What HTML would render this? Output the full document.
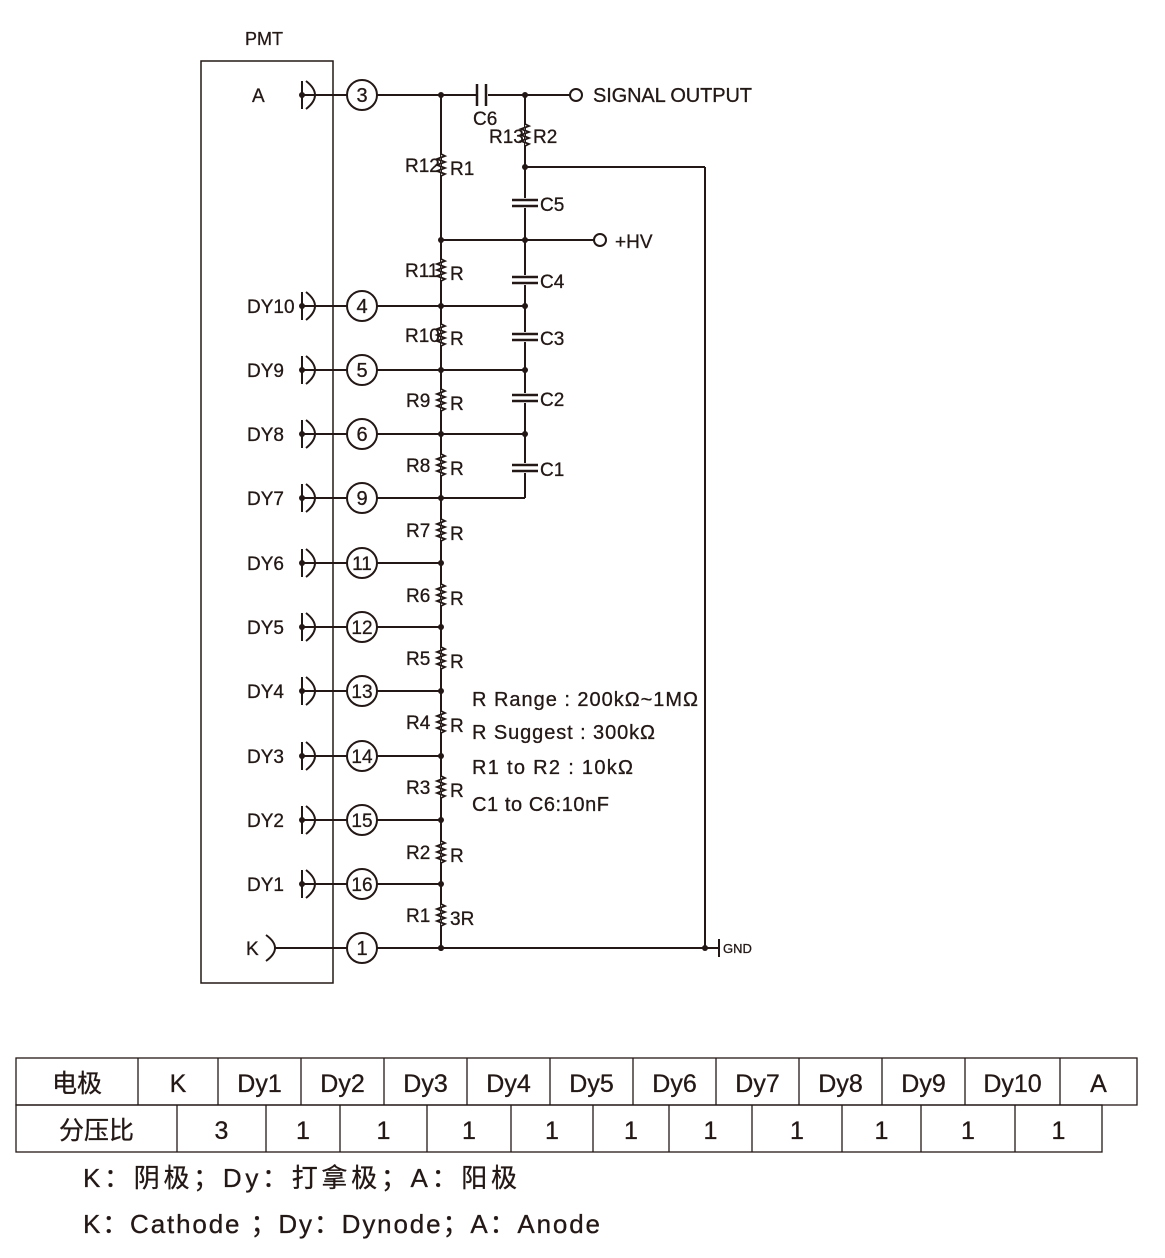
<!DOCTYPE html>
<html><head><meta charset="utf-8"><style>
html,body{margin:0;padding:0;background:#fff}
svg{display:block}
text{font-family:"Liberation Sans","Noto Sans CJK SC",sans-serif;fill:#231815;stroke:#231815;stroke-width:0.3}
</style></head><body>
<svg id="s" width="1165" height="1258" viewBox="0 0 1165 1258" xmlns="http://www.w3.org/2000/svg">
<g stroke="#231815" stroke-width="2" fill="none" id="g">
<rect x="201" y="61" width="132" height="922" stroke-width="1.5"/>
</g>
<g id="t" font-size="18"></g>
</svg>
<script>
var NS="http://www.w3.org/2000/svg",g=document.getElementById('g'),t=document.getElementById('t');
function el(p,tag,a,txt){var e=document.createElementNS(NS,tag);for(var k in a)e.setAttribute(k,a[k]);if(txt!=null)e.textContent=txt;p.appendChild(e);return e;}
function L(x1,y1,x2,y2,w){el(g,'line',{x1:x1,y1:y1,x2:x2,y2:y2,'stroke-width':w||2});}
function T(x,y,s,fs,anchor,len){var a={x:x,y:y};if(fs)a['font-size']=fs;if(anchor)a['text-anchor']=anchor;if(len){a.textLength=len;a.lengthAdjust='spacing';}el(t,'text',a,s);}
function dot(x,y){el(g,'circle',{cx:x,cy:y,r:3,fill:'#231815',stroke:'none'});}
function res(x,y){var d='M'+x+' '+(y-11);var ys=[-9,-6,-3,0,3,6,9];for(var i=0;i<ys.length;i++)d+=' L'+(x+(i%2?-4:4))+' '+(y+ys[i]);d+=' L'+x+' '+(y+11);el(g,'path',{d:d,'stroke-width':1.8,fill:'#fff'});}
function capH(x,y){el(g,'rect',{x:x-14,y:y-5,width:28,height:10,fill:'#fff',stroke:'none'});L(x-13,y-3,x+13,y-3,2.5);L(x-13,y+3,x+13,y+3,2.5);}
T(264,45,'PMT',18,'middle');
var rows=[[95,'3','A'],[306,'4','DY10'],[370,'5','DY9'],[434,'6','DY8'],[498,'9','DY7'],[563,'11','DY6'],[627,'12','DY5'],[691,'13','DY4'],[756,'14','DY3'],[820,'15','DY2'],[884,'16','DY1'],[948,'1','K']];
L(441,95,441,948);L(525,95,525,498);
rows.forEach(function(r,i){var y=r[0];
 if(i<11){L(302,y-14,302,y+14);el(g,'path',{d:'M306 '+(y-14)+' Q324 '+y+' 306 '+(y+14)});dot(302,y);L(302,y,347,y);}
 else{el(g,'path',{d:'M266 '+(y-13)+' Q284 '+y+' 266 '+(y+13)});L(274,y,347,y);}
 el(g,'circle',{cx:362,cy:y,r:15,fill:'#fff'});
 T(362,y+7,r[1],r[1].length>1?19:20,'middle');
 var right=(i>=1&&i<=4)?525:441;
 if(i>0){L(377,y,right,y);dot(441,y);if(right==525&&i<4)dot(525,y);}
 var lx=r[2]=='A'?252:(r[2]=='K'?246:247);T(lx,y+7,r[2],19);
});
L(377,95,476,95);L(488,95,570,95);L(477,84,477,106,2.5);L(486,84,486,106,2.5);
dot(441,95);dot(525,95);
el(g,'circle',{cx:576,cy:95,r:6,fill:'#fff'});T(593,102,'SIGNAL   OUTPUT',20,null,159);
T(473,125,'C6',19);
res(525,135);T(489,143,'R13',19);T(533,143,'R2',19);
dot(525,167);L(525,167,705,167);L(705,167,705,948);L(441,948,705,948);dot(705,948);dot(441,948);
L(705,948,719,948);L(719,939,719,957);T(723,953,'GND',13);
L(441,240,594,240);dot(441,240);dot(525,240);el(g,'circle',{cx:600,cy:240,r:6,fill:'#fff'});T(615,248,'+HV',19);
[[203,'C5'],[280,'C4'],[337,'C3'],[398,'C2'],[468,'C1']].forEach(function(c){capH(525,c[0]);T(540,c[0]+8,c[1],19);});
var rs=[[165,'R12','R1'],[270,'R11','R'],[335,'R10','R'],[400,'R9','R'],[465,'R8','R'],[530,'R7','R'],[595,'R6','R'],[658,'R5','R'],[722,'R4','R'],[787,'R3','R'],[852,'R2','R'],[915,'R1','3R']];
rs.forEach(function(r){res(441,r[0]);T(r[1].length>2?405:406,r[0]+7,r[1],19);T(450,r[0]+10,r[2],19);});
T(472,706,'R  Range : 200kΩ~1MΩ',20,null,226);T(472,739,'R  Suggest : 300kΩ',20,null,183);T(472,774,'R1  to  R2 : 10kΩ',20,null,161);T(472,811,'C1  to  C6:10nF',20,null,137);
function row(y,h,xs,labels){el(g,'rect',{x:xs[0],y:y,width:xs[xs.length-1]-xs[0],height:h,'stroke-width':1.3});for(var i=1;i<xs.length-1;i++)L(xs[i],y,xs[i],y+h,1.3);for(var i=0;i<labels.length;i++)T((xs[i]+xs[i+1])/2,y+34,labels[i],25,'middle');}
row(1058,47,[16,138,218,301,384,467,550,633,716,799,882,965,1060,1137],['电极','K','Dy1','Dy2','Dy3','Dy4','Dy5','Dy6','Dy7','Dy8','Dy9','Dy10','A']);
row(1105,47,[16,177,266,340,427,511,593,669,752,842,921,1015,1102],['分压比','3','1','1','1','1','1','1','1','1','1','1']);
T(83,1187,'K：阴极；Dy：打拿极；A：阳极',26,null,434);
T(83,1233,'K：Cathode ；Dy：Dynode；A：Anode',26,null,517);
</script>
</body></html>
